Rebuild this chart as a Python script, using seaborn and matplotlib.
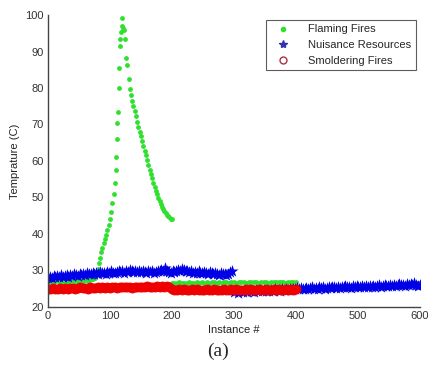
import numpy as np
import matplotlib.pyplot as plt
import seaborn as sns
from matplotlib.lines import Line2D

# ------------------------------------------------------------
# dados (temperatura em C por instância)
# ------------------------------------------------------------

# Flaming Fires: trecho inicial plano, subida, pico e decaimento, trecho final plano
flaming_x_ini = np.arange(0, 80, 4)
flaming_y_ini = [26.9, 27.1, 26.8, 27.0, 27.2, 26.9, 27.1, 27.0, 26.8, 27.2,
                 27.0, 27.1, 26.9, 27.2, 27.0, 27.3, 27.1, 27.4, 27.6, 28.0]

flaming_x_sub = list(range(78, 110, 2)) + list(range(109, 122))
flaming_y_sub = [29.0, 30.5, 32.0, 33.5, 35.0, 36.2, 37.4, 38.5, 39.6, 41.0,
                 42.5, 44.0, 46.0, 48.5, 51.0, 54.0,
                 57.5, 61.0, 66.0, 70.5, 73.5, 80.0, 85.5, 91.5, 93.5, 95.3,
                 97.0, 99.3, 96.5]

flaming_x_dec = np.arange(122, 202, 2)
flaming_y_dec = [96.0, 93.5, 88.2, 86.3, 82.5, 79.7, 78.0, 76.5, 75.0, 73.6,
                 72.2, 70.8, 69.4, 68.0, 66.7, 65.4, 64.1, 62.8, 61.5, 60.2,
                 58.9, 57.6, 56.4, 55.2, 54.0, 52.9, 51.8, 50.8, 49.9, 49.0,
                 48.2, 47.5, 46.8, 46.2, 45.7, 45.2, 44.8, 44.5, 44.2, 44.0]

flaming_x_fim = np.arange(200, 404, 4)
flaming_y_fim = [26.4, 26.6, 26.5, 26.7, 26.5, 26.6, 26.4, 26.7, 26.6, 26.5,
                 26.7, 26.6, 26.8, 26.5, 26.7, 26.6, 26.8, 26.7, 26.5, 26.8,
                 26.6, 26.7, 26.9, 26.6, 26.8, 26.7, 26.5, 26.8, 26.7, 26.9,
                 26.6, 26.8, 26.7, 26.9, 26.8, 26.6, 26.9, 26.7, 26.8, 26.6,
                 26.9, 26.7, 26.8, 26.9, 26.7, 26.8, 26.6, 26.9, 26.8, 26.7, 26.8]

# Nuisance Resources: dois ensaios (0-300 e 300-600)
nuis_x_a = np.arange(0, 300, 3)
nuis_y_a = [27.9, 28.3, 28.0, 28.4, 28.1, 28.5, 28.2, 28.6, 28.3, 28.4,
            28.7, 28.3, 28.8, 28.5, 28.9, 28.6, 28.4, 28.9, 28.7, 29.0,
            28.8, 29.2, 28.9, 29.1, 29.4, 29.0, 29.3, 29.1, 29.5, 29.2,
            29.4, 29.1, 29.6, 29.3, 29.7, 29.4, 29.2, 29.6, 29.8, 29.5,
            29.7, 29.4, 29.9, 29.6, 30.2, 29.8, 29.5, 29.9, 29.6, 29.8,
            29.5, 29.9, 29.6, 29.4, 29.8, 29.5, 29.7, 29.3, 29.6, 29.9,
            29.7, 30.1, 29.8, 30.6, 29.9, 29.6, 29.3, 29.7, 29.5, 29.9,
            30.2, 29.8, 30.4, 30.0, 29.7, 29.9, 29.5, 29.8, 29.4, 29.6,
            29.3, 29.7, 29.4, 29.2, 29.6, 29.3, 29.1, 29.5, 29.2, 28.9,
            29.3, 29.0, 28.8, 29.2, 28.9, 29.1, 28.7, 29.0, 29.5, 29.8]

nuis_x_b = np.arange(300, 603, 3)
nuis_y_b = [24.0, 24.3, 23.9, 24.2, 24.4, 24.0, 24.3, 24.1, 24.5, 24.2,
            24.4, 24.1, 24.5, 24.3, 24.6, 24.2, 24.5, 24.4, 24.7, 24.3,
            24.6, 24.4, 24.8, 24.5, 24.7, 24.4, 24.8, 24.6, 24.9, 24.7,
            24.9, 24.6, 25.0, 24.8, 25.1, 24.9, 25.2, 24.8, 25.0, 25.2,
            24.9, 25.1, 25.3, 25.0, 25.2, 24.9, 25.3, 25.1, 25.4, 25.0,
            25.2, 25.4, 25.1, 25.3, 25.5, 25.2, 25.4, 25.1, 25.5, 25.3,
            25.6, 25.3, 25.5, 25.2, 25.6, 25.4, 25.7, 25.3, 25.5, 25.7,
            25.4, 25.6, 25.3, 25.7, 25.5, 25.8, 25.4, 25.6, 25.9, 25.5,
            25.7, 25.9, 25.6, 25.8, 26.0, 25.7, 26.1, 25.8, 25.9, 26.2,
            25.9, 26.1, 25.8, 26.3, 26.0, 26.2, 25.9, 26.4, 26.1, 25.8, 26.0]

# Smoldering Fires
smold_x = np.arange(0, 404, 4)
smold_y = [25.0, 24.9, 25.1, 25.0, 24.9, 25.1, 25.0, 25.2, 25.0, 25.1,
           25.2, 25.0, 25.1, 25.3, 25.1, 25.2, 25.0, 25.3, 25.2, 25.1,
           25.3, 25.2, 25.4, 25.2, 25.3, 25.1, 25.4, 25.3, 25.2, 25.4,
           25.3, 25.5, 25.3, 25.4, 25.2, 25.5, 25.4, 25.3, 25.5, 25.4,
           25.6, 25.4, 25.5, 25.3, 25.6, 25.5, 25.7, 25.4, 25.6, 25.5,
           24.8, 24.6, 24.7, 24.9, 24.6, 24.8, 24.5, 24.7, 24.9, 24.6,
           24.8, 24.5, 24.7, 24.6, 24.9, 24.7, 24.5, 24.8, 24.6, 24.7,
           24.5, 24.8, 24.6, 24.7, 24.9, 24.6, 24.8, 24.5, 24.7, 24.6,
           24.8, 24.6, 24.9, 24.7, 24.5, 24.8, 24.6, 24.7, 24.9, 24.6,
           24.7, 24.9, 24.6, 24.8, 24.5, 24.7, 24.9, 24.6, 24.8, 24.7, 24.8]

VERDE = '#2fe02f'
AZUL = '#0000e6'
VERMELHO = '#ee0000'

sns.set_style('white')
plt.rcParams['font.family'] = ['Liberation Sans', 'DejaVu Sans']

fig = plt.figure(figsize=(4.28, 3.76), dpi=100)
ax = fig.add_axes([0.112, 0.184, 0.869, 0.776])

# verde (flaming) primeiro, depois azul, vermelho por cima
fl_x = np.concatenate([flaming_x_ini, flaming_x_sub, flaming_x_dec, flaming_x_fim])
fl_y = flaming_y_ini + flaming_y_sub + flaming_y_dec + flaming_y_fim
sns.scatterplot(x=fl_x, y=fl_y, marker='o', color=VERDE, s=12, linewidth=0, ax=ax)

nu_x = np.concatenate([nuis_x_a, nuis_x_b])
nu_y = nuis_y_a + nuis_y_b
sns.scatterplot(x=nu_x, y=nu_y, marker='*', color=AZUL, s=85, linewidth=0, ax=ax)

sns.scatterplot(x=smold_x, y=smold_y, marker='o', color=VERMELHO, s=42,
                edgecolor=VERMELHO, linewidth=0.6, ax=ax)

ax.set_xlim(0, 600)
ax.set_ylim(20, 100)
ax.set_xticks(range(0, 700, 100))
ax.set_yticks(range(20, 110, 10))
ax.set_xlabel('Instance #', fontsize=8, color='#222222', labelpad=3)
ax.set_ylabel('Temprature (C)', fontsize=8, color='#222222', labelpad=4)
ax.tick_params(direction='in', length=4, width=0.8, labelsize=8,
               colors='#333333', pad=3)
for lado in ['top', 'right']:
    ax.spines[lado].set_visible(False)
for lado in ['left', 'bottom']:
    ax.spines[lado].set_color('#444444')
    ax.spines[lado].set_linewidth(1)

handles = [
    Line2D([], [], linestyle='', marker='.', color=VERDE, markersize=6),
    Line2D([], [], linestyle='', marker='*', color='#3333aa', markersize=6),
    Line2D([], [], linestyle='', marker='o', markerfacecolor='none',
           markeredgecolor='#aa3344', markersize=5),
]
leg = ax.legend(handles, ['Flaming Fires', 'Nuisance Resources', 'Smoldering Fires'],
                loc='upper right', bbox_to_anchor=(0.989, 0.983), borderaxespad=0,
                fontsize=8, frameon=True, fancybox=False, handlelength=2.2,
                labelspacing=0.5, borderpad=0.4, handletextpad=1.2)
leg.get_frame().set_edgecolor('#333333')
leg.get_frame().set_linewidth(0.8)

fig.text(0.51, 0.065, '(a)', ha='center', va='center', fontsize=14,
         family=['Liberation Serif', 'DejaVu Serif'])

plt.savefig('out.png', dpi=100)
plt.close()
